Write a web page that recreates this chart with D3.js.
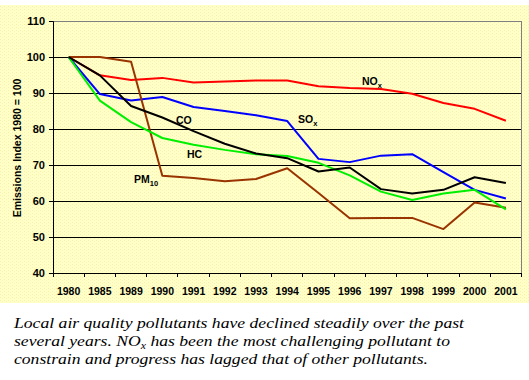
<!DOCTYPE html>
<html><head><meta charset="utf-8">
<script src="https://cdn.jsdelivr.net/npm/d3@7"></script>
<style>
html,body{margin:0;padding:0;background:#fff;}
svg{display:block;}
</style></head>
<body>
<svg id="c" width="529" height="380"></svg>
<script>
const years = ["1980","1985","1989","1990","1991","1992","1993","1994","1995","1996","1997","1998","1999","2000","2001"];
const nox  = [100, 94.9, 93.6, 94.2, 92.9, 93.2, 93.5, 93.5, 91.9, 91.4, 91.1, 89.8, 87.2, 85.6, 82.3];
const sox  = [100, 89.7, 87.9, 88.9, 86.1, 85.0, 83.8, 82.2, 71.7, 70.8, 72.6, 73.0, 68.0, 63.1, 60.7];
const co   = [100, 94.9, 86.4, 83.2, 79.4, 75.9, 73.2, 71.9, 68.2, 69.3, 63.3, 62.1, 63.1, 66.6, 65.0];
const hc   = [100, 87.9, 81.9, 77.5, 75.6, 74.2, 73.0, 72.5, 70.6, 67.1, 62.6, 60.3, 62.1, 63.1, 57.7];
const pm10 = [100, 100, 98.7, 67.0, 66.4, 65.5, 66.1, 69.1, 62.2, 55.2, 55.3, 55.3, 52.2, 59.6, 58.1];
const yTicks = [40, 50, 60, 70, 80, 90, 100, 110];
const seriesNames = ["NOx", "SOx", "CO", "HC", "PM10"];
const captionLines = [
  "Local air quality pollutants have declined steadily over the past",
  ["several years. NO", "x", " has been the most challenging pollutant to"],
  "constrain and progress has lagged that of other pollutants."
];

const svg = d3.select("#c");
const defs = svg.append("defs");
const pat = defs.append("pattern").attr("id","dots").attr("width",4).attr("height",3).attr("patternUnits","userSpaceOnUse");
pat.append("rect").attr("width",4).attr("height",3).attr("fill","#ffffc6");
pat.append("rect").attr("x",0).attr("y",0).attr("width",1).attr("height",1).attr("fill","#f4f0b4");
pat.append("rect").attr("x",2).attr("y",1).attr("width",1).attr("height",1).attr("fill","#f8f4bc");

svg.append("rect").attr("x",0).attr("y",5).attr("width",529).attr("height",298).attr("fill","url(#dots)");

const L = 53, R = 521.5, T = 21, B = 273;
const x = d3.scaleBand().domain(years).range([L, R]).padding(0);
const y = d3.scaleLinear().domain([40, 110]).range([B, T]);
const cx = d => x(d) + x.bandwidth()/2;

// gridlines
svg.append("g").selectAll("line").data(yTicks.filter(v => v > 40 && v < 110)).join("line")
  .attr("x1", L).attr("x2", R).attr("y1", d => y(d)).attr("y2", d => y(d))
  .attr("stroke", "#000").attr("stroke-width", 1).attr("shape-rendering","crispEdges");
// plot border top/right gray
svg.append("path").attr("d", `M${L},${y(110)}H${R}V${B}`).attr("fill","none")
  .attr("stroke","#808080").attr("stroke-width",1).attr("shape-rendering","crispEdges");

// Y axis
const yAxis = svg.append("g").attr("transform", `translate(${L},0)`)
  .call(d3.axisLeft(y).tickValues(yTicks).tickSize(4).tickPadding(4));
yAxis.select(".domain").attr("stroke","#000");
yAxis.selectAll("line").attr("stroke","#000");
yAxis.selectAll("text").attr("font-family","Liberation Sans, Arial, sans-serif").attr("font-size","11px").attr("font-weight","bold").attr("fill","#000");

// X axis
const xAxis = svg.append("g").attr("transform", `translate(0,${B})`)
  .call(d3.axisBottom(x).tickSize(0).tickPadding(15).tickSizeOuter(0));
xAxis.select(".domain").attr("stroke","#000");
xAxis.selectAll("text").attr("font-family","Liberation Sans, Arial, sans-serif").attr("font-size","10.5px").attr("font-weight","bold").attr("fill","#000");
const edges = years.map(d => x(d)).concat([R]);
svg.append("g").selectAll("line").data(edges).join("line")
  .attr("x1", d => d).attr("x2", d => d).attr("y1", B).attr("y2", B + 4)
  .attr("stroke","#000").attr("shape-rendering","crispEdges");

// Y title
svg.append("text").attr("transform", "translate(21,148) rotate(-90)")
  .attr("text-anchor","middle").attr("font-family","Liberation Sans, Arial, sans-serif")
  .attr("font-size","10.5px").attr("font-weight","bold").attr("fill","#000")
  .text("Emissions Index 1980 = 100");

// lines
const line = d3.line().x((d,i) => cx(years[i])).y(d => y(d));
const series = [
  {v: nox, c: "#ff0000"},
  {v: sox, c: "#0000ff"},
  {v: pm10, c: "#993300"},
  {v: hc, c: "#00ee00"},
  {v: co, c: "#000000"}
];
svg.append("g").selectAll("path").data(series).join("path")
  .attr("d", d => line(d.v)).attr("fill","none").attr("stroke", d => d.c).attr("stroke-width", 2)
  .attr("stroke-linejoin","round");

// series labels
const labs = [
  {name: seriesNames[0], x: 362, y: 85},
  {name: seriesNames[1], x: 298, y: 123},
  {name: seriesNames[2], x: 176, y: 124},
  {name: seriesNames[3], x: 187, y: 158},
  {name: seriesNames[4], x: 134, y: 183}
];
labs.forEach(l => {
  const t = svg.append("text").attr("x", l.x).attr("y", l.y)
    .attr("font-family","Liberation Sans, Arial, sans-serif").attr("font-size","10.5px").attr("font-weight","bold").attr("fill","#000");
  t.append("tspan").text(l.name.slice(0,2));
  t.append("tspan").attr("dy", 3).attr("font-size","7.5px").text(l.name.slice(2));
});

// caption
const cap = svg.append("g").attr("font-family","Liberation Serif, Times New Roman, serif").attr("font-style","italic").attr("font-size", "15px").attr("fill","#000");
const targets = [450, 436, 414];
captionLines.forEach((ln, i) => {
  const t = cap.append("text").attr("x", 14).attr("y", 328 + i*18);
  if (typeof ln === "string") t.text(ln);
  else {
    t.append("tspan").text(ln[0]);
    t.append("tspan").attr("dy", 3).attr("font-size","10px").text(ln[1]);
    t.append("tspan").attr("dy", -3).text(ln[2]);
  }
  t.attr("textLength", targets[i]).attr("lengthAdjust", "spacingAndGlyphs");
});
</script>
</body></html>
